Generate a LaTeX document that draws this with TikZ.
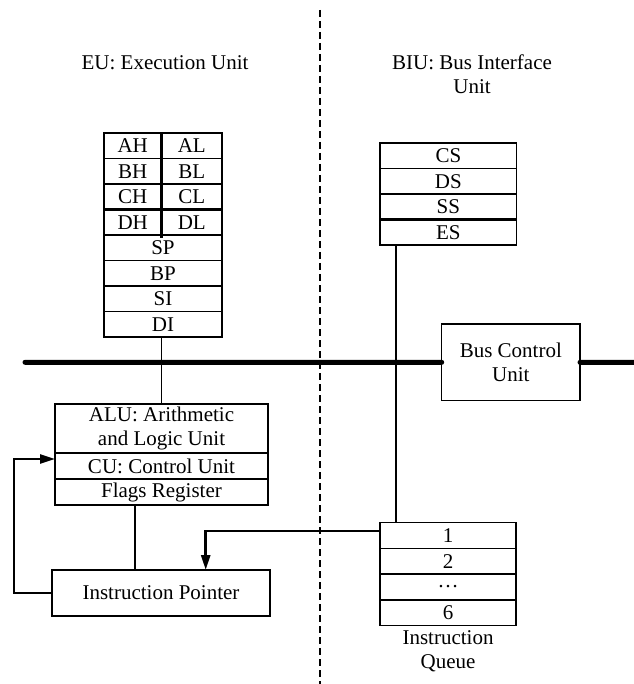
\documentclass[tikz,border=0pt]{standalone}
\usepackage{fontspec}
\setmainfont{Liberation Serif}
\usetikzlibrary{arrows.meta}
\begin{document}
\begin{tikzpicture}[x=1pt,y=-1pt,
  every node/.style={font=\fontsize{21}{23.5}\selectfont},
  cell/.style={draw, line width=1.5pt, inner sep=0pt, outer sep=0pt, anchor=north west},
  conn/.style={line width=1.5pt},
  thick edge/.style={line width=2.6pt},
  flow/.style={line width=2.6pt, -{Triangle[length=15pt,width=9pt]}},
  bus/.style={line width=5pt, line cap=round},
  divider/.style={line width=2.8pt, dash pattern=on 6.7pt off 4.3pt},
  title/.style={align=center, inner sep=0pt}
]
\useasboundingbox (0,0) rectangle (633,684);

% divider between EU and BIU
\coordinate (dtop) at (320,10);
\coordinate (dbot) at (320,684);
\draw[divider] (dtop) -- (dbot);

% titles
\node[title] (eu) at (165,63) {EU: Execution Unit};
\node[title] (biu) at (472,74) {BIU: Bus Interface\\Unit};

% general registers
\node[cell, minimum width=57.5, minimum height=25.5] (ah) at (104,133) {AH};
\node[cell, minimum width=60.5, minimum height=25.5] (al) at (161.5,133) {AL};
\node[cell, minimum width=57.5, minimum height=25.5] (bh) at (104,158.5) {BH};
\node[cell, minimum width=60.5, minimum height=25.5] (bl) at (161.5,158.5) {BL};
\node[cell, minimum width=57.5, minimum height=25.5] (ch) at (104,184) {CH};
\node[cell, minimum width=60.5, minimum height=25.5] (cl) at (161.5,184) {CL};
\node[cell, minimum width=57.5, minimum height=25.5] (dh) at (104,209.5) {DH};
\node[cell, minimum width=60.5, minimum height=25.5] (dl) at (161.5,209.5) {DL};
\node[cell, minimum width=118, minimum height=25.5] (sp) at (104,235) {SP};
\node[cell, minimum width=118, minimum height=25.5] (bp) at (104,260.5) {BP};
\node[cell, minimum width=118, minimum height=25.5] (si) at (104,286) {SI};
\node[cell, minimum width=118, minimum height=25.5] (di) at (104,311.5) {DI};
\draw[thick edge] (ah.north west) -- (di.south west);
\draw[thick edge] (al.north east) -- (di.south east);
\draw[thick edge] (ah.north east) -- ([yshift=-3pt]dh.south east);
\draw[thick edge] (dh.north west) -- (dl.north east);

% segment registers
\node[cell, minimum width=136.7, minimum height=25.5] (cs) at (380,143) {CS};
\node[cell, minimum width=136.7, minimum height=25.5] (ds) at (380,168.5) {DS};
\node[cell, minimum width=136.7, minimum height=25.5] (ss) at (380,194) {SS};
\node[cell, minimum width=136.7, minimum height=25.5] (es) at (380,219.5) {ES};
\draw[thick edge] (cs.north west) -- (cs.north east);
\draw[thick edge] (es.north west) -- (es.north east);

% bus control unit
\node[cell, minimum width=138.3, minimum height=76.7, align=center] (bcu) at (441.7,324) {Bus Control\\Unit};

% ALU block
\node[cell, minimum width=213, minimum height=49, align=center] (alu) at (55,404) {ALU: Arithmetic\\and Logic Unit};
\node[cell, minimum width=213, minimum height=26] (cu) at (55,453) {CU: Control Unit};
\node[cell, minimum width=213, minimum height=26] (flags) at (55,479) {Flags Register};
\draw[thick edge] (flags.north west) -- (flags.north east);
\draw[thick edge] (alu.north east) -- (flags.south east);

% instruction pointer
\node[cell, minimum width=218, minimum height=46] (ip) at (52,570) {Instruction Pointer};

% instruction queue
\node[cell, minimum width=136, minimum height=25.6] (q1) at (380,522.7) {1};
\node[cell, minimum width=136, minimum height=25.7] (q2) at (380,548.3) {2};
\node[cell, minimum width=136, minimum height=26] (q3) at (380,574) {\dots};
\node[cell, minimum width=136, minimum height=25.7] (q6) at (380,600) {6};
\node[title] (ql) at (448,651) {Instruction\\Queue};

% bus
\coordinate (busL) at (25,362.3);
\coordinate (busR) at (640,362.3);
\draw[bus] (busL) -- (bcu.west);
\draw[bus] (bcu.east) -- (busR);

% connectors
\draw[conn] ([xshift=-1.5pt]di.south) -- ([xshift=-1.5pt]di.south |- alu.north);
\draw[conn] ([xshift=16pt]es.south west) -- ([xshift=16pt]q1.north west);
\draw[conn] ([xshift=80pt]flags.south west) -- ([xshift=83pt]ip.north west);
\draw[flow] (ip.west) -- ++(-38,0) |- ([yshift=-6pt]cu.north west);
\draw[flow] ([yshift=-8.3pt]q1.north west) -| ([xshift=153.7pt]ip.north west);
\end{tikzpicture}
\end{document}
